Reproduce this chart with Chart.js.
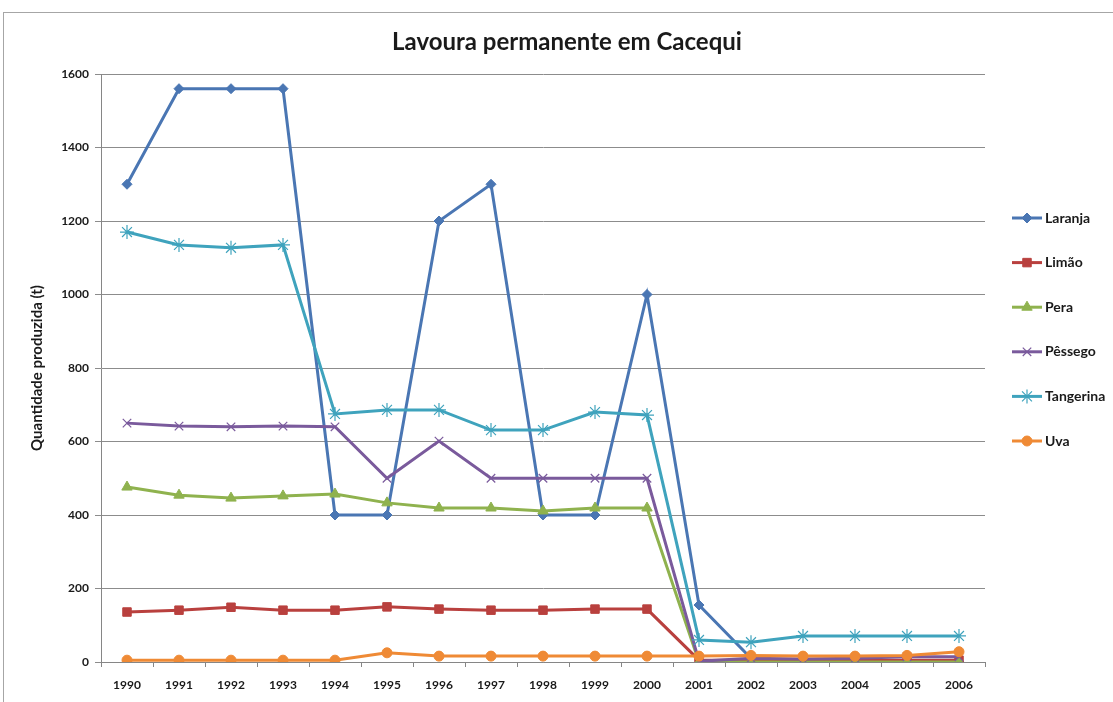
<!DOCTYPE html>
<html>
<head>
<meta charset="utf-8">
<script src="https://cdn.jsdelivr.net/npm/chart.js@4.4.1/dist/chart.umd.min.js"></script>
<style>
  html, body { margin: 0; padding: 0; background: #fff; }
  #frame {
    position: absolute; left: 3px; top: 12px; width: 1200px; height: 800px;
    border: 1px solid #a6a6a6; box-sizing: border-box;
  }
  #chart { position: absolute; left: 0; top: 0; }
</style>
</head>
<body>
<div id="frame"></div>
<canvas id="chart" width="1113" height="702"></canvas>
<script>
(function () {
  "use strict";

  var years = ["1990", "1991", "1992", "1993", "1994", "1995", "1996", "1997", "1998",
    "1999", "2000", "2001", "2002", "2003", "2004", "2005", "2006"];
  var laranja = [1300, 1560, 1560, 1560, 400, 400, 1200, 1300, 400, 400, 1000, 155, 10, 0, 0, 0, 0];
  var limao = [136, 141, 149, 141, 141, 150, 144, 141, 141, 144, 144, 5, 5, 5, 5, 5, 5];
  var pera = [476, 454, 446, 452, 457, 433, 419, 419, 411, 419, 419, 0, 0, 0, 0, 0, 0];
  var pessego = [650, 642, 640, 642, 640, 500, 601, 500, 500, 500, 500, 2, 10, 8, 10, 14, 14];
  var tangerina = [1170, 1135, 1127, 1135, 675, 686, 686, 631, 631, 680, 672, 60, 54, 71, 71, 71, 71];
  var uva = [5, 5, 5, 5, 5, 25, 16, 16, 16, 16, 16, 16, 18, 16, 16, 18, 28];
  var yTicks = [0, 200, 400, 600, 800, 1000, 1200, 1400, 1600];

  var fontFam = "Lato, 'Open Sans', sans-serif";
  var titleText = "Lavoura permanente em Cacequi";

  function series(label, data, color, style, radius, order) {
    return {
      label: label,
      data: data,
      borderColor: color,
      backgroundColor: color,
      pointBackgroundColor: color,
      pointBorderColor: color,
      pointStyle: style,
      pointRadius: radius,
      pointBorderWidth: (style === "crossRot" || style === "star") ? 1.2 : 1,
      borderWidth: 3,
      tension: 0,
      order: order
    };
  }

  var datasets = [
    series("Laranja", laranja, "#4a76b3", "rectRot", 5, 5),
    series("Limão", limao, "#b9403e", "rect", 6, 4),
    series("Pera", pera, "#8fb24e", "triangle", 6, 3),
    series("Pêssego", pessego, "#7a5a9c", "crossRot", 6, 2),
    series("Tangerina", tangerina, "#3fa3bd", "star", 7, 1),
    series("Uva", uva, "#ef8a35", "circle", 5, 0)
  ];

  // title + legend drawn by hand so they sit where Excel put them
  var decorPlugin = {
    id: "decor",
    afterDraw: function (chart) {
      var ctx = chart.ctx;
      ctx.save();
      ctx.fillStyle = "#1a1a1a";
      ctx.font = "bold 24px " + fontFam;
      ctx.textAlign = "center";
      ctx.textBaseline = "middle";
      ctx.fillText(titleText, 567, 42);

      chart.data.datasets.forEach(function (ds, i) {
        var y = 218 + i * 44.6;
        ctx.strokeStyle = ds.borderColor;
        ctx.lineWidth = 3;
        ctx.beginPath();
        ctx.moveTo(1012, y);
        ctx.lineTo(1042, y);
        ctx.stroke();
        ctx.fillStyle = ds.pointBackgroundColor;
        ctx.strokeStyle = ds.pointBorderColor;
        ctx.lineWidth = ds.pointBorderWidth;
        Chart.helpers.drawPoint(ctx, {
          pointStyle: ds.pointStyle,
          radius: ds.pointRadius,
          rotation: 0,
          borderWidth: ds.pointBorderWidth
        }, 1027, y);
        ctx.fillStyle = "#1a1a1a";
        ctx.font = "bold 14px " + fontFam;
        ctx.textAlign = "left";
        ctx.textBaseline = "middle";
        ctx.fillText(ds.label, 1045, y);
      });
      ctx.restore();
    }
  };

  new Chart(document.getElementById("chart").getContext("2d"), {
    type: "line",
    data: { labels: years, datasets: datasets },
    options: {
      responsive: false,
      animation: false,
      layout: { padding: { top: 74, right: 128, bottom: 0, left: 0 } },
      scales: {
        x: {
          offset: true,
          afterFit: function (scale) { scale.height = 40; },
          grid: {
            offset: true,
            drawOnChartArea: false,
            drawTicks: true,
            tickLength: 5,
            color: "#868686"
          },
          border: { color: "#868686", width: 1 },
          ticks: {
            color: "#1a1a1a",
            padding: 11,
            maxRotation: 0,
            font: { family: fontFam, size: 12, weight: "bold" }
          }
        },
        y: {
          min: 0,
          max: 1600,
          afterFit: function (scale) { scale.width = 101; },
          afterBuildTicks: function (scale) {
            scale.ticks = yTicks.map(function (v) { return { value: v }; });
          },
          grid: {
            color: "#8c8c8c",
            tickLength: 6,
            drawTicks: true
          },
          border: { color: "#868686", width: 1 },
          ticks: {
            color: "#1a1a1a",
            padding: 6,
            font: { family: fontFam, size: 12, weight: "bold" },
            callback: function (value) { return String(value); }
          },
          title: {
            display: true,
            text: "Quantidade produzida (t)",
            color: "#1a1a1a",
            padding: { top: 28, bottom: 0 },
            font: { family: fontFam, size: 15, weight: "bold" }
          }
        }
      },
      plugins: {
        legend: { display: false },
        tooltip: { enabled: false },
        title: { display: false }
      }
    },
    plugins: [decorPlugin]
  });
})();
</script>
</body>
</html>
